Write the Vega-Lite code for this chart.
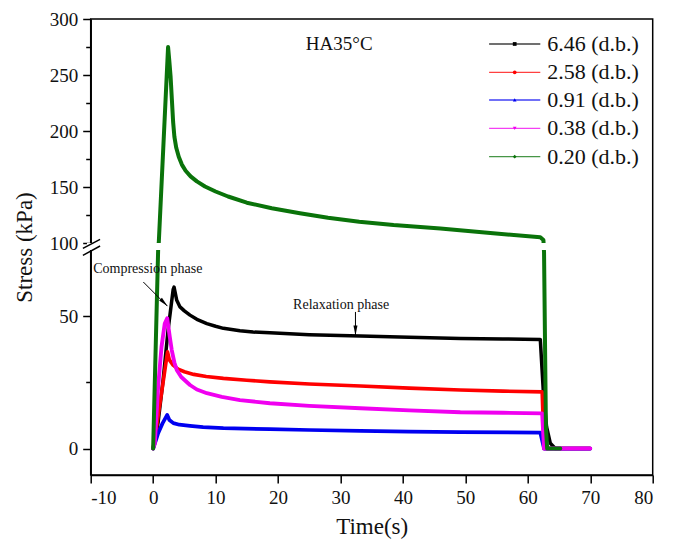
{
  "$schema": "https://vega.github.io/schema/vega-lite/v6.json",
  "width": 562,
  "height": 456,
  "autosize": {"type": "none"},
  "padding": {"left": 90.7, "top": 19, "right": 23.3, "bottom": 72},
  "background": "white",
  "config": {
    "view": {"stroke": "#000", "strokeWidth": 1.5},
    "font": "Liberation Serif",
    "axis": {
      "grid": false, "zindex": 0,
      "domainColor": "#000", "domainWidth": 1.5,
      "tickColor": "#000", "tickWidth": 1.5,
      "labelFont": "Liberation Serif", "labelFontSize": 19, "labelColor": "#111",
      "titleFont": "Liberation Serif", "titleFontSize": 23, "titleFontWeight": "normal", "titleColor": "#111"
    }
  },
  "datasets": {
    "curves": [
      {"s": "6.46 (d.b.)", "t": 0, "v": 0},
      {"s": "6.46 (d.b.)", "t": 0.8, "v": 10},
      {"s": "6.46 (d.b.)", "t": 1.6, "v": 26},
      {"s": "6.46 (d.b.)", "t": 2.4, "v": 45},
      {"s": "6.46 (d.b.)", "t": 3.2, "v": 60},
      {"s": "6.46 (d.b.)", "t": 3.35, "v": 61},
      {"s": "6.46 (d.b.)", "t": 3.78, "v": 56},
      {"s": "6.46 (d.b.)", "t": 4.3, "v": 53.5},
      {"s": "6.46 (d.b.)", "t": 5.0, "v": 52},
      {"s": "6.46 (d.b.)", "t": 5.9, "v": 50.4},
      {"s": "6.46 (d.b.)", "t": 7.0, "v": 48.8},
      {"s": "6.46 (d.b.)", "t": 8.6, "v": 47.2},
      {"s": "6.46 (d.b.)", "t": 10, "v": 46.2},
      {"s": "6.46 (d.b.)", "t": 11.25, "v": 45.4},
      {"s": "6.46 (d.b.)", "t": 13.9, "v": 44.5},
      {"s": "6.46 (d.b.)", "t": 16, "v": 44},
      {"s": "6.46 (d.b.)", "t": 18.7, "v": 43.7},
      {"s": "6.46 (d.b.)", "t": 25, "v": 43},
      {"s": "6.46 (d.b.)", "t": 33.2, "v": 42.5},
      {"s": "6.46 (d.b.)", "t": 41, "v": 42},
      {"s": "6.46 (d.b.)", "t": 49.2, "v": 41.6},
      {"s": "6.46 (d.b.)", "t": 56, "v": 41.4},
      {"s": "6.46 (d.b.)", "t": 62.0, "v": 41.2},
      {"s": "6.46 (d.b.)", "t": 62.5, "v": 21},
      {"s": "6.46 (d.b.)", "t": 63.0, "v": 8.3},
      {"s": "6.46 (d.b.)", "t": 63.6, "v": 2},
      {"s": "6.46 (d.b.)", "t": 64.4, "v": 0},
      {"s": "6.46 (d.b.)", "t": 70, "v": 0},
      {"s": "2.58 (d.b.)", "t": 0, "v": 0},
      {"s": "2.58 (d.b.)", "t": 0.54, "v": 8.3},
      {"s": "2.58 (d.b.)", "t": 1.34, "v": 20.9},
      {"s": "2.58 (d.b.)", "t": 2.3, "v": 36.5},
      {"s": "2.58 (d.b.)", "t": 2.6, "v": 33.5},
      {"s": "2.58 (d.b.)", "t": 3.2, "v": 31.5},
      {"s": "2.58 (d.b.)", "t": 4.0, "v": 30},
      {"s": "2.58 (d.b.)", "t": 5.0, "v": 29},
      {"s": "2.58 (d.b.)", "t": 6.5, "v": 28},
      {"s": "2.58 (d.b.)", "t": 8.5, "v": 27.2},
      {"s": "2.58 (d.b.)", "t": 11.25, "v": 26.5},
      {"s": "2.58 (d.b.)", "t": 15, "v": 25.8},
      {"s": "2.58 (d.b.)", "t": 18.7, "v": 25.2},
      {"s": "2.58 (d.b.)", "t": 25, "v": 24.4},
      {"s": "2.58 (d.b.)", "t": 33.2, "v": 23.6},
      {"s": "2.58 (d.b.)", "t": 41, "v": 22.8},
      {"s": "2.58 (d.b.)", "t": 49.2, "v": 22.1},
      {"s": "2.58 (d.b.)", "t": 56, "v": 21.7},
      {"s": "2.58 (d.b.)", "t": 62.3, "v": 21.4},
      {"s": "2.58 (d.b.)", "t": 62.6, "v": 0},
      {"s": "2.58 (d.b.)", "t": 70, "v": 0},
      {"s": "0.91 (d.b.)", "t": 0, "v": 0},
      {"s": "0.91 (d.b.)", "t": 0.5, "v": 3.5},
      {"s": "0.91 (d.b.)", "t": 0.8, "v": 5.8},
      {"s": "0.91 (d.b.)", "t": 1.5, "v": 9.5},
      {"s": "0.91 (d.b.)", "t": 2.25, "v": 12.7},
      {"s": "0.91 (d.b.)", "t": 2.6, "v": 10.8},
      {"s": "0.91 (d.b.)", "t": 3.24, "v": 9.6},
      {"s": "0.91 (d.b.)", "t": 4.2, "v": 9},
      {"s": "0.91 (d.b.)", "t": 5.9, "v": 8.6},
      {"s": "0.91 (d.b.)", "t": 8, "v": 8.1},
      {"s": "0.91 (d.b.)", "t": 11.25, "v": 7.7},
      {"s": "0.91 (d.b.)", "t": 18.7, "v": 7.3},
      {"s": "0.91 (d.b.)", "t": 25, "v": 7},
      {"s": "0.91 (d.b.)", "t": 33.2, "v": 6.7},
      {"s": "0.91 (d.b.)", "t": 41, "v": 6.4},
      {"s": "0.91 (d.b.)", "t": 49.2, "v": 6.2},
      {"s": "0.91 (d.b.)", "t": 62.0, "v": 6.0},
      {"s": "0.91 (d.b.)", "t": 62.6, "v": 0},
      {"s": "0.91 (d.b.)", "t": 70, "v": 0},
      {"s": "0.38 (d.b.)", "t": 0, "v": 0},
      {"s": "0.38 (d.b.)", "t": 0.27, "v": 2},
      {"s": "0.38 (d.b.)", "t": 0.8, "v": 23.4},
      {"s": "0.38 (d.b.)", "t": 1.34, "v": 38.4},
      {"s": "0.38 (d.b.)", "t": 1.86, "v": 47.2},
      {"s": "0.38 (d.b.)", "t": 2.25, "v": 49.2},
      {"s": "0.38 (d.b.)", "t": 2.66, "v": 42.2},
      {"s": "0.38 (d.b.)", "t": 2.98, "v": 37.2},
      {"s": "0.38 (d.b.)", "t": 3.4, "v": 32.5},
      {"s": "0.38 (d.b.)", "t": 3.78, "v": 29.7},
      {"s": "0.38 (d.b.)", "t": 4.5, "v": 27},
      {"s": "0.38 (d.b.)", "t": 5.9, "v": 24},
      {"s": "0.38 (d.b.)", "t": 7, "v": 22.3},
      {"s": "0.38 (d.b.)", "t": 8.6, "v": 20.9},
      {"s": "0.38 (d.b.)", "t": 11, "v": 19.5},
      {"s": "0.38 (d.b.)", "t": 13.9, "v": 18.3},
      {"s": "0.38 (d.b.)", "t": 18.7, "v": 17.1},
      {"s": "0.38 (d.b.)", "t": 25, "v": 16.1},
      {"s": "0.38 (d.b.)", "t": 33.2, "v": 15.2},
      {"s": "0.38 (d.b.)", "t": 41, "v": 14.4},
      {"s": "0.38 (d.b.)", "t": 49.2, "v": 13.7},
      {"s": "0.38 (d.b.)", "t": 56, "v": 13.5},
      {"s": "0.38 (d.b.)", "t": 62.3, "v": 13.3},
      {"s": "0.38 (d.b.)", "t": 62.6, "v": 0},
      {"s": "0.38 (d.b.)", "t": 70, "v": 0},
      {"s": "0.20 (d.b.)", "t": 0, "v": 0},
      {"s": "0.20 (d.b.)", "t": 0.8, "v": 75},
      {"s": "0.20 (d.b.)", "t": 0.9, "v": 100},
      {"s": "0.20 (d.b.)", "t": 2.39, "v": 275},
      {"s": "0.20 (d.b.)", "t": 2.6, "v": 262},
      {"s": "0.20 (d.b.)", "t": 2.8, "v": 248},
      {"s": "0.20 (d.b.)", "t": 3.0, "v": 228},
      {"s": "0.20 (d.b.)", "t": 3.2, "v": 208},
      {"s": "0.20 (d.b.)", "t": 3.4, "v": 195},
      {"s": "0.20 (d.b.)", "t": 3.7, "v": 185},
      {"s": "0.20 (d.b.)", "t": 4.1, "v": 177},
      {"s": "0.20 (d.b.)", "t": 4.6, "v": 170},
      {"s": "0.20 (d.b.)", "t": 5.2, "v": 164.5},
      {"s": "0.20 (d.b.)", "t": 6.0, "v": 159.5},
      {"s": "0.20 (d.b.)", "t": 7.0, "v": 155},
      {"s": "0.20 (d.b.)", "t": 8.3, "v": 150.5},
      {"s": "0.20 (d.b.)", "t": 10, "v": 146},
      {"s": "0.20 (d.b.)", "t": 12, "v": 141.5},
      {"s": "0.20 (d.b.)", "t": 15, "v": 136},
      {"s": "0.20 (d.b.)", "t": 19, "v": 131},
      {"s": "0.20 (d.b.)", "t": 23.5, "v": 126.5},
      {"s": "0.20 (d.b.)", "t": 28, "v": 122.5},
      {"s": "0.20 (d.b.)", "t": 33, "v": 119},
      {"s": "0.20 (d.b.)", "t": 38.5, "v": 116},
      {"s": "0.20 (d.b.)", "t": 46, "v": 113},
      {"s": "0.20 (d.b.)", "t": 54, "v": 109},
      {"s": "0.20 (d.b.)", "t": 62, "v": 105.1},
      {"s": "0.20 (d.b.)", "t": 62.5, "v": 102.7},
      {"s": "0.20 (d.b.)", "t": 62.6, "v": 74},
      {"s": "0.20 (d.b.)", "t": 62.9, "v": 8},
      {"s": "0.20 (d.b.)", "t": 63.1, "v": 0},
      {"s": "0.20 (d.b.)", "t": 65.2, "v": 0}
    ],
    "keyrows": [
      {"s": "6.46 (d.b.)", "v": 277.7},
      {"s": "2.58 (d.b.)", "v": 252.4},
      {"s": "0.91 (d.b.)", "v": 227.7},
      {"s": "0.38 (d.b.)", "v": 202.4},
      {"s": "0.20 (d.b.)", "v": 177.1}
    ],
    "arrows": [
      {"t": -1.57, "v": 62.9, "t2": 2.28, "v2": 53.8},
      {"t": 32.4, "v": 51.6, "t2": 32.4, "v2": 42.8}
    ],
    "heads": [
      {"t": 1.75, "v": 55.1, "dir": "diag"},
      {"t": 32.4, "v": 44.6, "dir": "down"}
    ],
    "breaks": [
      {"t": -11.25, "v": 81.1, "t2": -8.5, "v2": 103.3},
      {"t": -11.25, "v": 73.0, "t2": -8.5, "v2": 89.3}
    ],
    "notes": [
      {"t": -0.85, "v": 67.7, "label": "Compression phase"},
      {"t": 30.1, "v": 54.1, "label": "Relaxation phase"}
    ]
  },
  "layer": [
    {
      "data": {"name": "curves"},
      "mark": {"type": "line", "strokeJoin": "round", "strokeCap": "round"},
      "encoding": {
        "x": {"field": "t", "type": "quantitative",
          "scale": {"domain": [-10, 80], "nice": false, "zero": false},
          "axis": {
            "title": "Time(s)",
            "values": [-10, -5, 0, 5, 10, 15, 20, 25, 30, 35, 40, 45, 50, 55, 60, 65, 70, 75, 80],
            "labelExpr": "datum.value % 10 === 0 ? '' + datum.value : ''",
            "tickSize": {"condition": {"test": "datum.value % 10 === 0", "value": 8}, "value": 5},
            "labelPadding": 5, "titlePadding": 8
          }},
        "y": {"field": "v", "type": "quantitative",
          "scale": {"domain": [-10, 75, 100, 300], "range": [456, 231, 224, 0], "nice": false, "zero": false},
          "axis": {
            "title": "Stress (kPa)",
            "values": [0, 25, 50, 100, 125, 150, 175, 200, 225, 250, 275, 300],
            "labelExpr": "datum.value % 50 === 0 ? '' + datum.value : ''",
            "tickSize": {"condition": {"test": "datum.value % 50 === 0", "value": 8}, "value": 5},
            "labelPadding": 5, "titlePadding": 13
          }},
        "color": {"field": "s", "type": "nominal", "legend": null,
          "scale": {"domain": ["6.46 (d.b.)", "2.58 (d.b.)", "0.91 (d.b.)", "0.38 (d.b.)", "0.20 (d.b.)"],
                    "range": ["#000000", "#ff0000", "#0000f0", "#f000f0", "#0a730a"]}},
        "strokeWidth": {"field": "s", "type": "ordinal", "legend": null,
          "scale": {"domain": ["6.46 (d.b.)", "2.58 (d.b.)", "0.91 (d.b.)", "0.38 (d.b.)", "0.20 (d.b.)"],
                    "range": [3.5, 4, 4.5, 5, 5.5]}},
        "order": {"value": null}
      }
    },
    {
      "data": {"values": [{"v": 75, "v2": 100}]},
      "mark": {"type": "rect", "color": "white"},
      "encoding": {
        "x": {"datum": -10.6, "type": "quantitative"},
        "x2": {"datum": 70},
        "y": {"field": "v", "type": "quantitative"},
        "y2": {"field": "v2"}
      }
    },
    {
      "data": {"name": "breaks"},
      "mark": {"type": "rule", "color": "#000", "strokeWidth": 1.5},
      "encoding": {
        "x": {"field": "t", "type": "quantitative"},
        "y": {"field": "v", "type": "quantitative"},
        "x2": {"field": "t2"}, "y2": {"field": "v2"}
      }
    },
    {
      "data": {"name": "arrows"},
      "mark": {"type": "rule", "color": "#000", "strokeWidth": 1},
      "encoding": {
        "x": {"field": "t", "type": "quantitative"},
        "y": {"field": "v", "type": "quantitative"},
        "x2": {"field": "t2"}, "y2": {"field": "v2"}
      }
    },
    {
      "data": {"name": "heads"},
      "transform": [{"filter": "datum.dir === 'diag'"}],
      "mark": {"type": "point", "shape": "M0,-1L0.4,1L-0.4,1Z", "filled": true, "color": "#000", "size": 100, "angle": 135, "opacity": 1},
      "encoding": {
        "x": {"field": "t", "type": "quantitative"},
        "y": {"field": "v", "type": "quantitative"}
      }
    },
    {
      "data": {"name": "heads"},
      "transform": [{"filter": "datum.dir === 'down'"}],
      "mark": {"type": "point", "shape": "M0,-1L0.4,1L-0.4,1Z", "filled": true, "color": "#000", "size": 100, "angle": 180, "opacity": 1},
      "encoding": {
        "x": {"field": "t", "type": "quantitative"},
        "y": {"field": "v", "type": "quantitative"}
      }
    },
    {
      "data": {"name": "notes"},
      "mark": {"type": "text", "fontSize": 14, "font": "Liberation Serif", "color": "#111", "align": "center", "baseline": "middle"},
      "encoding": {
        "x": {"field": "t", "type": "quantitative"},
        "y": {"field": "v", "type": "quantitative"},
        "text": {"field": "label"}
      }
    },
    {
      "data": {"values": [{"t": 29.8, "v": 277.7, "label": "HA35°C"}]},
      "mark": {"type": "text", "fontSize": 19, "font": "Liberation Serif", "color": "#111", "align": "center", "baseline": "middle"},
      "encoding": {
        "x": {"field": "t", "type": "quantitative"},
        "y": {"field": "v", "type": "quantitative"},
        "text": {"field": "label"}
      }
    },
    {
      "data": {"name": "keyrows"},
      "mark": {"type": "rule", "strokeWidth": 1.3, "opacity": 0.75},
      "encoding": {
        "x": {"datum": 53.8, "type": "quantitative"},
        "x2": {"datum": 62.0},
        "y": {"field": "v", "type": "quantitative"},
        "color": {"field": "s", "type": "nominal", "legend": null}
      }
    },
    {
      "data": {"name": "keyrows"},
      "mark": {"type": "point", "filled": true, "size": 14, "opacity": 1},
      "encoding": {
        "x": {"datum": 57.9, "type": "quantitative"},
        "y": {"field": "v", "type": "quantitative"},
        "color": {"field": "s", "type": "nominal", "legend": null},
        "shape": {"field": "s", "type": "nominal", "legend": null,
          "scale": {"domain": ["6.46 (d.b.)", "2.58 (d.b.)", "0.91 (d.b.)", "0.38 (d.b.)", "0.20 (d.b.)"],
                    "range": ["square", "circle", "triangle-up", "triangle-down", "diamond"]}}
      }
    },
    {
      "data": {"name": "keyrows"},
      "mark": {"type": "text", "fontSize": 22, "font": "Liberation Serif", "color": "#111", "align": "left", "baseline": "middle"},
      "encoding": {
        "x": {"datum": 63.1, "type": "quantitative"},
        "y": {"field": "v", "type": "quantitative"},
        "text": {"field": "s"}
      }
    }
  ]
}
